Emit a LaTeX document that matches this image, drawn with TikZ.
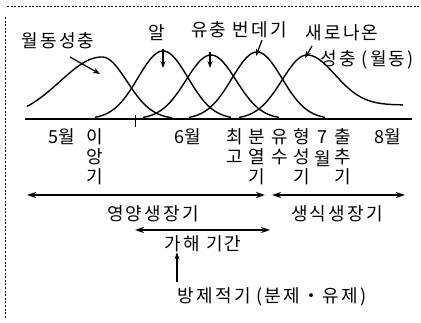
\documentclass[tikz,border=0pt]{standalone}
\usepackage{fontspec}
\newfontfamily\kr{Noto Sans CJK KR}
\newfontfamily\krw[LetterSpace=12]{Noto Sans CJK KR}
\usetikzlibrary{arrows.meta}
\tikzset{
  lbl/.style={font=\kr\fontsize{18}{20}\selectfont, inner sep=0pt},
  wlbl/.style={font=\krw\fontsize{18}{20}\selectfont, inner sep=0pt},
  curve/.style={line width=1.4pt, line join=round},
  tip/.style={-{Stealth[length=7pt,width=5pt]}},
  arr/.style={line width=1.2pt, tip},
  darr/.style={line width=1.3pt, {Stealth[length=9pt,width=6pt]}-{Stealth[length=9pt,width=6pt]}},
  frame/.style={line width=0.9pt, dash pattern=on 2pt off 1.6pt},
}
\begin{document}
\begin{tikzpicture}[x=1pt,y=-1pt]
\useasboundingbox (0,0) rectangle (421,323);
% frame
\coordinate (tl) at (7,6); \coordinate (tr) at (421,6);
\coordinate (lt) at (5,17); \coordinate (lb) at (5,318);
\draw[frame] (tl) -- (tr);
\draw[frame] (lt) -- (lb);
% axis
\coordinate (ax0) at (25,119); \coordinate (ax1) at (412,119);
\draw[line width=1.4pt] (ax0) -- (ax1);
\coordinate (tk0) at (135,115); \coordinate (tk1) at (135,127);
\draw[line width=1pt] (tk0) -- (tk1);
% curves
\draw[curve] plot[domain=27:102, samples=40] (\x, {119-62*exp(-((\x-102)/42)*((\x-102)/42)/2)})
  -- plot[domain=102:172, samples=40] (\x, {119-62*exp(-((\x-102)/25)*((\x-102)/25)/2)});
\draw[curve] plot[domain=95:231, samples=60] (\x, {119-68*exp(-((\x-163)/25)*((\x-163)/25)/2)});
\draw[curve] plot[domain=143:279, samples=60] (\x, {119-64*exp(-((\x-211)/25)*((\x-211)/25)/2)});
\draw[curve] plot[domain=189:325, samples=60] (\x, {119-67*exp(-((\x-257)/25)*((\x-257)/25)/2)});
\draw[curve] plot[domain=239:307, samples=40] (\x, {119-64*exp(-((\x-307)/25)*((\x-307)/25)/2)})
  -- plot[domain=307:403, samples=50] (\x, {105-50*exp(-((\x-307)/28)*((\x-307)/28)/2)});
% top labels
\node[wlbl] (wd) at (58,41) {월동성충};
\node[lbl] (al) at (157,33) {알};
\node[wlbl] (yu) at (239,30) {유충 번데기};
\node[wlbl] (sa) at (342,33) {새로나온};
\node[wlbl] (sc) at (367,60) {성충 (월동)};
% pointer arrows
\coordinate (wda) at (70,57); \coordinate (wdb) at (100,74);
\draw[arr] (wda) -- (wdb);
\coordinate (ala) at (163,49); \coordinate (alb) at (163,68);
\draw[arr] (ala) -- (alb);
\coordinate (yua) at (210,52); \coordinate (yub) at (210,68);
\draw[arr] (yua) -- (yub);
\coordinate (bda) at (262,40); \coordinate (bdb) at (256,56);
\draw[arr] (bda) -- (bdb);
\coordinate (saa) at (312,46); \coordinate (sab) at (305,58);
\draw[arr] (saa) -- (sab);
% month / stage labels
\node[lbl] (m5) at (62,137) {5월};
\node[lbl] (m6) at (188,137) {6월};
\node[lbl] (m8) at (388,137) {8월};
\node[lbl] (s7) at (322,137) {7};
\node[lbl] (s7m) at (323,159) {월};
\foreach \t/\x/\y/\n in {이/95/137/i1, 앙/95/157/i2, 기/95/177/i3,
  최/235/137/c1, 고/235/157/c2,
  분/257/137/b1, 열/257/157/b2, 기/257/177/b3,
  유/280/137/y1, 수/280/157/y2,
  형/302/137/h1, 성/302/157/h2, 기/302/177/h3,
  출/343/137/o1, 추/343/157/o2, 기/343/177/o3}
  \node[lbl] (\n) at (\x,\y) {\t};
% period arrows
\coordinate (p1a) at (27,195); \coordinate (p1b) at (265,195);
\draw[darr] (p1a) -- (p1b);
\coordinate (p2a) at (272,195); \coordinate (p2b) at (405,195);
\draw[darr] (p2a) -- (p2b);
\node[wlbl] (yy) at (153,214) {영양생장기};
\node[wlbl] (ss) at (337,214) {생식생장기};
\coordinate (g1) at (135,230); \coordinate (g2) at (270,230);
\draw[darr] (g1) -- (g2);
\node[wlbl] (gh) at (203,244) {가해 기간};
\node[wlbl] (bj) at (272,297) {방제적기 (분제・유제)};
\coordinate (up0) at (177,282);
\draw[arr] (up0) -- (gh.south -| up0);
\end{tikzpicture}
\end{document}
